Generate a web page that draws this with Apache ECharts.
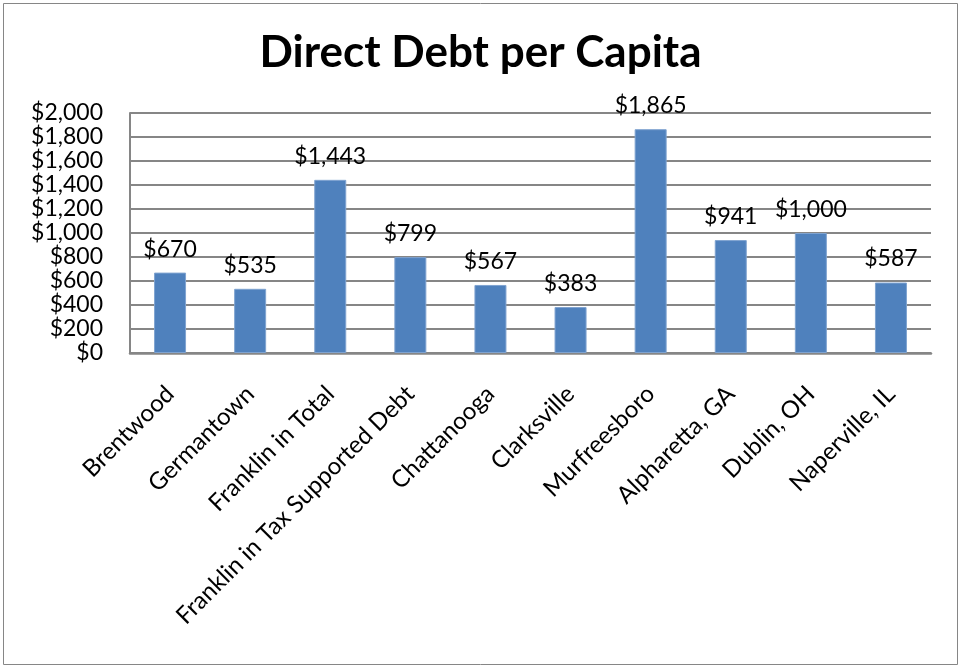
<!DOCTYPE html>
<html>
<head>
<meta charset="utf-8">
<script src="https://cdn.jsdelivr.net/npm/echarts@6/dist/echarts.min.js"></script>
<style>
  html, body { margin: 0; padding: 0; background: #fff; }
  #chart { width: 961px; height: 669px; }
</style>
</head>
<body>
<div id="chart"></div>
<script>
// Direct debt per capita by city
const cities = [
  'Brentwood', 'Germantown', 'Franklin in Total', 'Franklin in Tax Supported Debt',
  'Chattanooga', 'Clarksville', 'Murfreesboro', 'Alpharetta, GA', 'Dublin, OH', 'Naperville, IL'
];
const debtPerCapita = [670, 535, 1443, 799, 567, 383, 1865, 941, 1000, 587];
const yTicks = { min: 0, max: 2000, step: 200 };

const FONT = 'Lato, "Open Sans", sans-serif';
const money = v => '$' + Math.round(v).toLocaleString('en-US');

const chart = echarts.init(document.getElementById('chart'));
chart.setOption({
  animation: false,
  backgroundColor: '#ffffff',
  graphic: [{
    type: 'rect',
    shape: { x: 3.5, y: 3.5, width: 954, height: 661 },
    style: { fill: 'none', stroke: '#868686', lineWidth: 1 },
    silent: true
  }],
  title: {
    text: 'Direct Debt per Capita',
    left: 'center',
    top: 26,
    textStyle: { fontFamily: FONT, fontSize: 44, fontWeight: 'bold', color: '#000' }
  },
  grid: { left: 130, right: 30, top: 113, bottom: 316, containLabel: false },
  xAxis: {
    type: 'category',
    data: cities,
    axisLine: { lineStyle: { color: '#868686', width: 2.5 } },
    axisTick: { show: false },
    axisLabel: {
      rotate: 45,
      interval: 0,
      margin: 37,
      fontFamily: FONT,
      fontSize: 24,
      color: '#000'
    }
  },
  yAxis: {
    type: 'value',
    min: yTicks.min,
    max: yTicks.max,
    interval: yTicks.step,
    axisLine: { show: true, lineStyle: { color: '#868686', width: 2 } },
    axisTick: { show: false },
    splitLine: { lineStyle: { color: '#868686', width: 2 } },
    axisLabel: {
      margin: 27,
      fontFamily: FONT,
      fontSize: 23,
      color: '#000',
      lineHeight: 23,
      formatter: money
    }
  },
  series: [{
    type: 'bar',
    data: debtPerCapita,
    barWidth: 32,
    itemStyle: { color: '#4F81BD', borderColor: '#7FA3D0', borderWidth: 1 },
    label: {
      show: true,
      position: 'top',
      distance: 12,
      fontFamily: FONT,
      fontSize: 23,
      color: '#000',
      formatter: p => money(p.value)
    }
  }]
});
</script>
</body>
</html>
